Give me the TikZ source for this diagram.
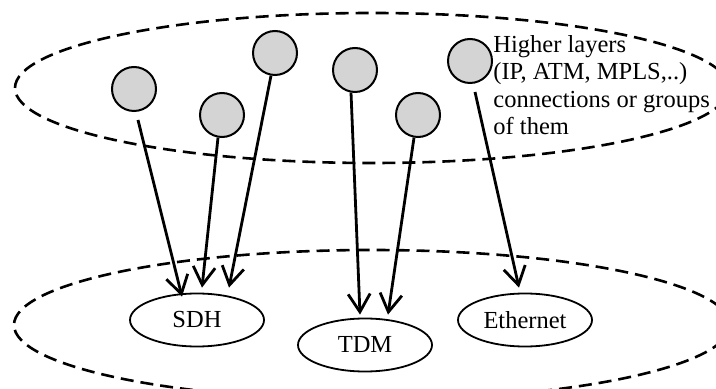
\documentclass[tikz,border=0pt]{standalone}
\usepackage{fontspec}
\setmainfont{Liberation Serif}
\usepackage{xcolor}
\usepackage{tikz}
\usetikzlibrary{shapes.geometric,arrows.meta}
\definecolor{hostgray}{RGB}{212,212,212}
\tikzstyle{host}=[fill=hostgray, draw=black, shape=circle, minimum size=22pt, inner sep=0pt, line width=1pt]
\tikzstyle{tech}=[fill=white, draw=black, shape=ellipse, minimum width=67pt, minimum height=26.5pt, inner sep=0pt, line width=0.9pt]
\tikzstyle{layer}=[draw=black, shape=ellipse, inner sep=0pt, line width=1.3pt, dash pattern=on 6.5pt off 3.5pt]
\tikzstyle{caption}=[anchor=north west, align=left, inner sep=0pt]
\tikzstyle{arrow edge}=[-{Straight Barb[length=9pt,width=11pt]}, line width=1.4pt]
\pgfdeclarelayer{nodelayer}
\pgfdeclarelayer{edgelayer}
\pgfsetlayers{main,nodelayer,edgelayer}

\begin{document}
\begin{tikzpicture}[x=0.5pt, y=-0.5pt, every node/.style={font=\fontsize{12.25}{13.75}\selectfont}]
	\useasboundingbox (0, 0) rectangle (716, 389);
	\begin{pgfonlayer}{nodelayer}
		\node [style=layer, minimum width=357pt, minimum height=75pt] (0) at (372, 88) {};
		\node [style=layer, minimum width=358pt, minimum height=75pt] (1) at (372, 325) {};
		\node [style=host] (2) at (134, 89) {};
		\node [style=host] (3) at (222, 115) {};
		\node [style=host] (4) at (275, 53) {};
		\node [style=host] (5) at (355, 70) {};
		\node [style=host] (6) at (418, 115) {};
		\node [style=host] (7) at (470, 61) {};
		\node [style=tech] (8) at (197, 320) {SDH};
		\node [style=tech] (9) at (365, 345) {TDM};
		\node [style=tech] (10) at (525, 320) {Ethernet};
		\node [style=caption] (11) at (493, 35) {Higher layers\\(IP, ATM, MPLS,..)\\connections or groups\\of them};
	\end{pgfonlayer}
	\begin{pgfonlayer}{edgelayer}
		\draw [style=arrow edge] ([shift={(2pt,-4pt)}]2.south) to ([shift={(-7.5pt,-2pt)}]8.north);
		\draw [style=arrow edge] (3.-100) to ([shift={(2.5pt,2.5pt)}]8.north);
		\draw [style=arrow edge] (4.-100) to ([shift={(16pt,2.5pt)}]8.north);
		\draw [style=arrow edge] (5.-100) to ([shift={(-2.5pt,1.5pt)}]9.north);
		\draw [style=arrow edge] (6.-100) to ([shift={(11.5pt,1.5pt)}]9.north);
		\draw [style=arrow edge] ([shift={(2.5pt,-4pt)}]7.south) to ([shift={(-3pt,2.5pt)}]10.north);
	\end{pgfonlayer}
\end{tikzpicture}
\end{document}
